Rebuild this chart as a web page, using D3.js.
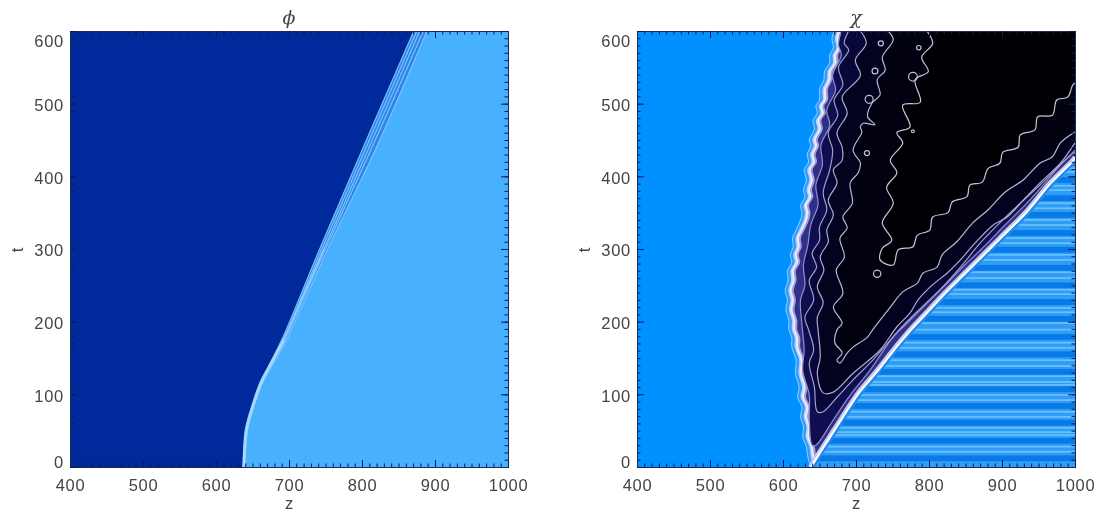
<!doctype html>
<meta charset='utf-8'>
<title>phi chi</title>
<style>
	html, body { margin:0; padding:0; background:#fff; }
	svg { display:block; filter:blur(0.35px); }
	text { font-family:"Liberation Sans", sans-serif; fill:#444; }
	.tick text { font-size:16.5px; letter-spacing:0.7px; }
	.domain { stroke:#1a2a60; stroke-width:1; }
	.tick line { stroke:#0c1c50; stroke-width:1; }
</style>
<div id='container'></div>
<script src="https://cdnjs.cloudflare.com/ajax/libs/d3/7.8.5/d3.min.js"></script>
<script>

	var zTicks = [400,500,600,700,800,900,1000]
	var tTicks = [0,100,200,300,400,500,600]

	// phi : front lines, z read at each t of phiT
	var phiT  = [0,51,78,116,143,175,300,436,600]
	var phiC0 = [637,640,647,660,674,690,742,800,871]
	var phiC1 = [638,641,648,661,675,692,745,804,875]
	var phiC2 = [638,642,649,662,676,693,748,808,879]
	var phiC3 = [639,642,649,663,677,695,750,812,884]
	var phiC4 = [640,643,650,664,679,697,753,818,889]

	// chi : [t, z] along the left and right fronts
	var chiFrontL = [[0,638],[14,634],[28,632],[41,627],[55,628],[69,624],[82,626],[96,620],[110,622],[129,617],[147,618],[165,612],[178,612],[189,608],[202,608],[216,604],[230,606],[243,603],[257,607],[270,606],[282,612],[292,610],[303,614],[315,613],[326,618],[340,624],[350,626],[360,624],[372,630],[381,628],[395,632],[409,629],[420,635],[430,633],[442,638],[450,636],[465,643],[477,641],[487,647],[497,645],[505,650],[520,650],[533,656],[545,657],[556,664],[567,664],[577,669],[590,667],[600,670]]
	var chiFrontR = [[0,637],[7,641],[23,651],[51,669],[76,685],[103,703],[122,719],[139,733],[162,751],[185,770],[212,795],[241,822],[268,849],[296,877],[323,904],[351,932],[392,966],[422,996],[427,1000]]

	// chi : contour lines, from the top edge down the left side and up to the right edge
	var chiC1 = [[600,680],[581,676],[567,680],[539,668],[519,672],[491,660],[471,664],[443,652],[416,654],[388,645],[361,648],[333,638],[305,634],[278,628],[250,630],[230,624],[195,626],[161,629],[133,627],[99,636],[65,636],[30,640],[30,645],[65,669],[99,692],[133,719],[179,751],[195,767],[223,795],[250,822],[278,849],[305,877],[333,904],[361,932],[391,959],[422,986],[433,1000]]
	var chiC2 = [[600,690],[583,684],[574,690],[550,676],[526,682],[505,670],[484,675],[460,662],[436,668],[409,664],[377,655],[354,660],[330,650],[312,650],[294,640],[275,646],[257,636],[230,642],[206,630],[189,635],[161,642],[143,636],[110,643],[76,647],[76,655],[96,674],[120,696],[147,723],[193,763],[220,790],[244,815],[275,843],[308,870],[336,897],[363,925],[388,952],[420,984],[436,1000]]
	var chiC3 = [[600,706],[583,714],[560,699],[539,706],[509,681],[487,688],[460,674],[440,681],[422,681],[409,669],[391,674],[367,662],[347,669],[326,660],[310,662],[289,651],[271,656],[248,647],[226,655],[206,647],[189,648],[151,651],[129,647],[102,655],[103,669],[129,696],[161,733],[193,756],[212,774],[230,785],[250,804],[267,825],[285,843],[308,863],[333,888],[344,907],[367,929],[391,952],[418,980],[446,1000]]
	var chiC4 = [[600,744],[588,751],[564,736],[546,740],[533,729],[512,733],[501,722],[482,716],[471,726],[473,710],[468,706],[461,708],[436,696],[418,706],[405,703],[391,692],[363,695],[344,682],[329,688],[315,678],[289,684],[271,673],[239,682],[220,669],[198,681],[189,674],[171,671],[157,681],[147,674],[143,678],[157,688],[165,696],[178,715],[189,723],[220,747],[241,764],[253,784],[267,792],[275,811],[292,818],[310,838],[336,860],[354,881],[378,904],[395,929],[418,952],[427,969],[446,980],[461,1000]]
	var chiC5 = [[600,797],[583,805],[564,790],[544,799],[533,781],[502,788],[498,764],[468,774],[460,756],[446,764],[422,747],[405,756],[385,742],[363,751],[336,736],[312,749],[301,736],[285,733],[278,751],[299,758],[303,778],[319,784],[326,801],[344,805],[350,826],[365,832],[372,852],[388,856],[392,873],[411,881],[418,897],[433,901],[440,922],[457,925],[464,945],[482,949],[484,969],[505,975],[509,990],[526,997],[528,1000]]

	// chi : small closed contours [t, z, radius in z]
	var chiIslands = [[266,729,5],[577,786,3],[462,778,2],[537,778,6],[583,734,3.5],[545,726,4],[506,718,5.5],[432,715,3.5]]

	// chi : stripes right of the front
	var stripeDark = [12,36,61,84,107,131,155,179,204,227,250,274,299,322,347,370,395,418]
	var stripeBright = [21,28,44,48,54,69,76,92,99,113,117,125,139,147,164,171,189,198,213,219,238,244,260,268,285,292,308,315,333,340,356,363,381,387,406,411]

	var width = 1099, height = 512
	var svg = d3.select('#container').append('svg')
		.attr('width', width).attr('height', height)

	var yScale = d3.scaleLinear().domain([0,600]).range([467,31])
	var top_ = 31, bottom = 467

	function pairs(zs) {
		return zs.map(function(z,i){ return [phiT[i], z] })
	}

	function panel(left, title, clipId) {
		var x = d3.scaleLinear().domain([400,1000]).range([left, left+438])
		var g = svg.append('g')
		svg.append('clipPath').attr('id', clipId).append('rect')
			.attr('x', left).attr('y', top_).attr('width', 438).attr('height', bottom-top_)
		var plot = g.append('g').attr('clip-path', 'url(#'+clipId+')')
		var line = d3.line()
			.x(function(d){ return x(d[1]) })
			.y(function(d){ return yScale(d[0]) })
			.curve(d3.curveCatmullRom.alpha(0.5))
		return {x:x, g:g, plot:plot, line:line, left:left, title:title}
	}

	function rect(sel, p, fill) {
		return sel.append('rect')
			.attr('x', p.x(400)).attr('y', yScale(600))
			.attr('width', p.x(1000)-p.x(400)).attr('height', yScale(0)-yScale(600))
			.attr('fill', fill)
	}

	function axes(p) {
		var x = p.x, g = p.g
		var minorZ = d3.range(400,1001,10), minorT = d3.range(0,601,10)
		g.append('g').attr('transform','translate(0,'+bottom+')')
			.call(d3.axisBottom(x).tickValues(minorZ).tickSize(-3.5).tickFormat(''))
		g.append('g').attr('transform','translate(0,'+top_+')')
			.call(d3.axisTop(x).tickValues(minorZ).tickSize(-3.5).tickFormat(''))
		g.append('g').attr('transform','translate(0,'+top_+')')
			.call(d3.axisTop(x).tickValues(zTicks).tickSize(-7).tickFormat(''))
		g.append('g').attr('transform','translate('+x(400)+',0)')
			.call(d3.axisLeft(yScale).tickValues(minorT).tickSize(-3.5).tickFormat(''))
		g.append('g').attr('transform','translate('+x(1000)+',0)')
			.call(d3.axisRight(yScale).tickValues(minorT).tickSize(-3.5).tickFormat(''))
		g.append('g').attr('transform','translate('+x(1000)+',0)')
			.call(d3.axisRight(yScale).tickValues(tTicks).tickSize(-7).tickFormat(''))

		g.append('g').attr('transform','translate(0,'+bottom+')')
			.call(d3.axisBottom(x).tickValues(zTicks).tickSize(-7).tickPadding(12).tickFormat(d3.format('d')))
		var ya = g.append('g').attr('transform','translate('+x(400)+',0)')
			.call(d3.axisLeft(yScale).tickValues(tTicks).tickSize(-7).tickPadding(6))
		// labels at the ends are pulled inside, as IDL does
		ya.selectAll('.tick text').attr('dy', function(d){
			if (d === 600) return '0.92em'
			if (d === 0) return '0'
			return '0.42em'
		})

		g.append('text').attr('x', x(700)).attr('y', 509).attr('text-anchor','middle')
			.style('font-size','16.5px').text('z')
		g.append('text')
			.attr('transform','translate('+(x(400)-47)+',250) rotate(-90)')
			.attr('text-anchor','middle').style('font-size','16.5px').text('t')
		g.append('text').attr('x', x(700)).attr('y', 24).attr('text-anchor','middle')
			.style('font-family','"DejaVu Serif", serif').style('font-style','italic')
			.style('font-size','19px').text(p.title)
	}

	// ------------------------------------------------------- phi

	var phi = panel(70, 'ϕ', 'clipPhi')
	rect(phi.plot, phi, '#00299b')

	var phiLast = pairs(phiC4)
	// light side, everything right of the outermost line
	phi.plot.append('path')
		.attr('d', phi.line(pairs(phiC0)) + 'L'+phi.x(1000)+','+yScale(600)+'L'+phi.x(1000)+','+yScale(0)+'Z')
		.attr('fill', '#2f86e8')
	phi.plot.append('path')
		.attr('d', phi.line(phiLast) + 'L'+phi.x(1000)+','+yScale(600)+'L'+phi.x(1000)+','+yScale(0)+'Z')
		.attr('fill', '#47b0ff')
	;[phiC0,phiC1,phiC2,phiC3,phiC4].forEach(function(zs){
		phi.plot.append('path').attr('d', phi.line(pairs(zs)))
			.attr('fill','none').attr('stroke','#7cc4ff').attr('stroke-width',1.1)
	})
	// lines run together near the start, reads as one pale band
	phi.plot.append('path')
		.attr('d', phi.line(pairs(phiC2).slice(0,6)))
		.attr('fill','none').attr('stroke','#a8d8ff').attr('stroke-width',2.6)
	phi.plot.append('path')
		.attr('d', phi.line(pairs(phiC2).slice(5,7)))
		.attr('fill','none').attr('stroke','#8ccbff').attr('stroke-width',1.6)
	axes(phi)

	// ------------------------------------------------------- chi

	var chi = panel(637, 'χ', 'clipChi')
	rect(chi.plot, chi, '#0091ff')

	function toRight(c) {
		return chi.line(c) + 'L'+chi.x(1000)+','+yScale(600)+'L'+chi.x(1000)+','+yScale(0)+'L'+chi.x(chiFrontL[0][1])+','+yScale(0)+'Z'
	}

	// halo of the left front, same edge pushed inward
	var halo = [[0,'#2d9dff','#a6d4ff'],[3,'#bcd0f6','none'],[4.5,'#ecebfb','none'],[6.5,'#a0a0dc','none'],[8.5,'#30308a','none']]
	halo.forEach(function(h){
		chi.plot.append('path').attr('d', toRight(chiFrontL))
			.attr('transform','translate('+h[0]+',0)')
			.attr('fill', h[1]).attr('stroke', h[2]).attr('stroke-width', 0.9)
	})

	function closeCorner(c) {
		return chi.line(c) + 'L'+chi.x(1000)+','+yScale(600)+'Z'
	}
	var levels = [[chiC1,'#0e0e50','#9090c4'],[chiC2,'#070738','#a0a0cc'],[chiC3,'#03031f','#acacd0'],[chiC4,'#010110','#b8b8d0'],[chiC5,'#000004','#c8c8d4']]
	levels.forEach(function(l){
		chi.plot.append('path').attr('d', closeCorner(l[0])).attr('fill', l[1])
	})
	levels.forEach(function(l){
		chi.plot.append('path').attr('d', chi.line(l[0]))
			.attr('fill','none').attr('stroke', l[2]).attr('stroke-width', 1.2)
	})
	chi.plot.selectAll('circle.island').data(chiIslands).enter().append('circle')
		.attr('class','island')
		.attr('cx', function(d){ return chi.x(d[1]) })
		.attr('cy', function(d){ return yScale(d[0]) })
		.attr('r', function(d){ return chi.x(d[1]+d[2]) - chi.x(d[1]) })
		.attr('fill','none').attr('stroke','#c0c0d0').attr('stroke-width',1.2)

	// striped side
	var rightPath = chi.line(chiFrontR) + 'L'+chi.x(1000)+','+yScale(0)+'Z'
	svg.append('clipPath').attr('id','clipRight').append('path').attr('d', rightPath)
	var stripes = chi.plot.append('g').attr('clip-path','url(#clipRight)')
	rect(stripes, chi, '#2f9df5')
	stripes.selectAll('rect.dark').data(stripeDark).enter().append('rect')
		.attr('class','dark')
		.attr('x', chi.x(400)).attr('width', chi.x(1000)-chi.x(400))
		.attr('y', function(d){ return yScale(d+4) })
		.attr('height', yScale(0)-yScale(8))
		.attr('fill','#087ae8')
	stripes.selectAll('rect.bright').data(stripeBright).enter().append('rect')
		.attr('class','bright')
		.attr('x', chi.x(400)).attr('width', chi.x(1000)-chi.x(400))
		.attr('y', function(d){ return yScale(d+1.2) })
		.attr('height', yScale(0)-yScale(2.4))
		.attr('fill','#6ac0ff')
	stripes.append('path').attr('d', chi.line(chiFrontR))
		.attr('fill','none').attr('stroke','#1f8bee').attr('stroke-width',9)
	chi.plot.append('path').attr('d', chi.line(chiFrontR))
		.attr('fill','none').attr('stroke','#c8c8ee').attr('stroke-width',4)
	chi.plot.append('path').attr('d', chi.line(chiFrontR))
		.attr('transform','translate(0.8,0.8)')
		.attr('fill','none').attr('stroke','#ffffff').attr('stroke-width',2)
	axes(chi)

</script>
